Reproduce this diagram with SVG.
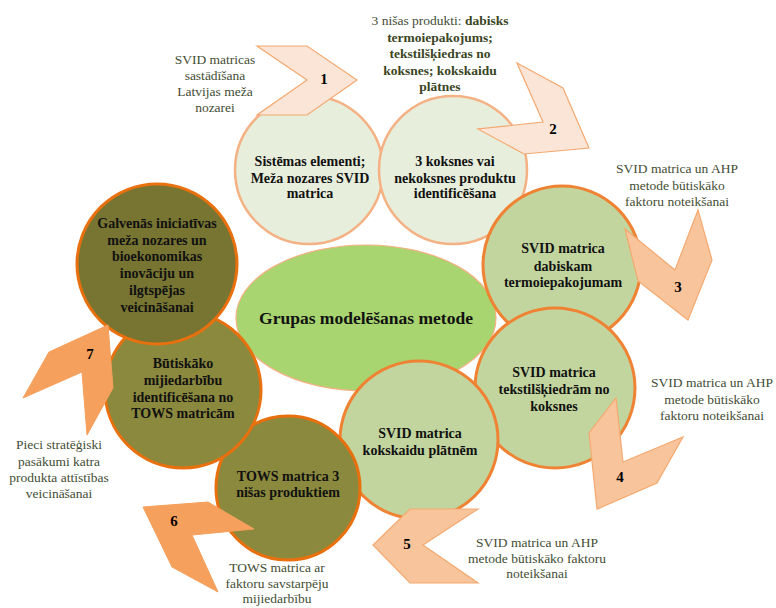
<svg xmlns="http://www.w3.org/2000/svg" width="776" height="608" viewBox="0 0 776 608">
<style>
.lt{fill:#e8eedc;stroke:#f4b183;stroke-width:2.5}
.md{fill:#c3d59e;stroke:#ef8233;stroke-width:3}
.ol{fill:#8b893d;stroke:#e8700e;stroke-width:3}
.dk{fill:#777531;stroke:#e8700e;stroke-width:3}
.ctr{fill:#a8d56f;stroke:#f4b183;stroke-width:1.2}
.a1{fill:#fbe5d7;stroke:#f4a970;stroke-width:1.2}
.a2{fill:#f8c49b;stroke:#f4a970;stroke-width:1.2}
.a3{fill:#f5a05c;stroke:#f5a05c;stroke-width:1}
text{font-family:"Liberation Serif","Times New Roman",serif;text-anchor:middle}
.b{font-weight:bold;font-size:14px;fill:#111}
.n{font-weight:bold;font-size:15px;fill:#000}
.t{font-size:13.5px;fill:#434d33}
.tb{font-weight:bold;fill:#3a4524}
</style>
<g id="node-center">
<ellipse class="ctr" cx="366" cy="318" rx="130" ry="73"/>
<text class="b" x="366" y="324" style="font-size:17.5px">Grupas modelēšanas metode</text>
</g>
<g id="node-1">
<circle class="lt" cx="309" cy="170" r="74"/>
<text class="b" x="310" y="166">Sistēmas elementi;</text>
<text class="b" x="310" y="183">Meža nozares SVID</text>
<text class="b" x="310" y="198">matrica</text>
</g>
<g id="node-2">
<circle class="lt" cx="453" cy="170" r="74"/>
<text class="b" x="455" y="166">3 koksnes vai</text>
<text class="b" x="455" y="183">nekoksnes produktu</text>
<text class="b" x="455" y="198">identificēšana</text>
</g>
<g id="node-3">
<circle class="md" cx="562" cy="265" r="79"/>
<text class="b" x="563" y="253">SVID matrica</text>
<text class="b" x="563" y="271">dabiskam</text>
<text class="b" x="563" y="287">termoiepakojumam</text>
</g>
<g id="node-4">
<circle class="md" cx="555" cy="388" r="80"/>
<text class="b" x="554" y="377">SVID matrica</text>
<text class="b" x="554" y="394">tekstilšķiedrām no</text>
<text class="b" x="554" y="411">koksnes</text>
</g>
<g id="node-5">
<circle class="md" cx="419" cy="440" r="79"/>
<text class="b" x="420" y="438">SVID matrica</text>
<text class="b" x="420" y="455">kokskaidu plātnēm</text>
</g>
<g id="node-6">
<circle class="ol" cx="288" cy="488" r="72"/>
<text class="b" x="288" y="481">TOWS matrica 3</text>
<text class="b" x="288" y="497">nišas produktiem</text>
</g>
<g id="node-7">
<circle class="ol" cx="183" cy="390" r="78"/>
<text class="b" x="183" y="368">Būtiskāko</text>
<text class="b" x="183" y="385">mijiedarbību</text>
<text class="b" x="183" y="402">identificēšana no</text>
<text class="b" x="183" y="418">TOWS matricām</text>
</g>
<g id="node-8">
<circle class="dk" cx="157" cy="264" r="80"/>
<text class="b" x="157" y="228">Galvenās iniciatīvas</text>
<text class="b" x="157" y="245">meža nozares un</text>
<text class="b" x="157" y="261">bioekonomikas</text>
<text class="b" x="157" y="278">inovāciju un</text>
<text class="b" x="157" y="295">ilgtspējas</text>
<text class="b" x="157" y="312">veicināšanai</text>
</g>
<g id="connectors">
<g id="arrow-1"><polygon class="a1" points="257,46 307,46 357,80 307,115 257,115 307,80"/><text class="n" x="324" y="84">1</text></g>
<g id="arrow-2"><polygon class="a1" points="517,63 563,88 589,148 524,154 478,129 543,122"/><text class="n" x="553" y="134">2</text></g>
<g id="arrow-3"><polygon class="a2" points="625,229 675,270 698,210 712,260 688,320 638,281"/><text class="n" x="678" y="292">3</text></g>
<g id="arrow-4"><polygon class="a2" points="616,398 623,462 683,437 657,483 597,509 589,433"/><text class="n" x="620" y="482">4</text></g>
<g id="arrow-5"><polygon class="a2" points="478,509 423,545 478,583 410,583 373,545 410,509"/><text class="n" x="407" y="549">5</text></g>
<g id="arrow-6"><polygon class="a3" points="143,507 208,502 254,529 192,535 218,592 172,567"/><text class="n" x="174" y="526">6</text></g>
<g id="arrow-7"><polygon class="a3" points="108,325 113,388 87,435 82,372 23,398 49,352"/><text class="n" x="90" y="359">7</text></g>
</g>
<g id="annotations">
<g id="note-1">
<text class="t" x="215" y="64">SVID matricas</text>
<text class="t" x="215" y="80">sastādīšana</text>
<text class="t" x="215" y="96">Latvijas meža</text>
<text class="t" x="215" y="112">nozarei</text>
</g>
<g id="note-2">
<text class="t" x="440" y="25">3 nišas produkti: <tspan class="tb">dabisks</tspan></text>
<text class="t tb" x="440" y="41.5">termoiepakojums;</text>
<text class="t tb" x="440" y="58">tekstilšķiedras no</text>
<text class="t tb" x="440" y="75">koksnes; kokskaidu</text>
<text class="t tb" x="440" y="91">plātnes</text>
</g>
<g id="note-3">
<text class="t" x="677" y="173">SVID matrica un AHP</text>
<text class="t" x="677" y="190">metode būtiskāko</text>
<text class="t" x="677" y="206">faktoru noteikšanai</text>
</g>
<g id="note-4">
<text class="t" x="712" y="387">SVID matrica un AHP</text>
<text class="t" x="712" y="404">metode būtiskāko</text>
<text class="t" x="712" y="420">faktoru noteikšanai</text>
</g>
<g id="note-5">
<text class="t" x="537" y="547">SVID matrica un AHP</text>
<text class="t" x="537" y="563">metode būtiskāko faktoru</text>
<text class="t" x="537" y="578">noteikšanai</text>
</g>
<g id="note-6">
<text class="t" x="277" y="572">TOWS matrica ar</text>
<text class="t" x="277" y="588">faktoru savstarpēju</text>
<text class="t" x="277" y="603">mijiedarbību</text>
</g>
<g id="note-7">
<text class="t" x="59" y="449">Pieci stratēģiski</text>
<text class="t" x="59" y="466">pasākumi katra</text>
<text class="t" x="59" y="482">produkta attīstības</text>
<text class="t" x="59" y="498">veicināšanai</text>
</g>
</g>
</svg>
